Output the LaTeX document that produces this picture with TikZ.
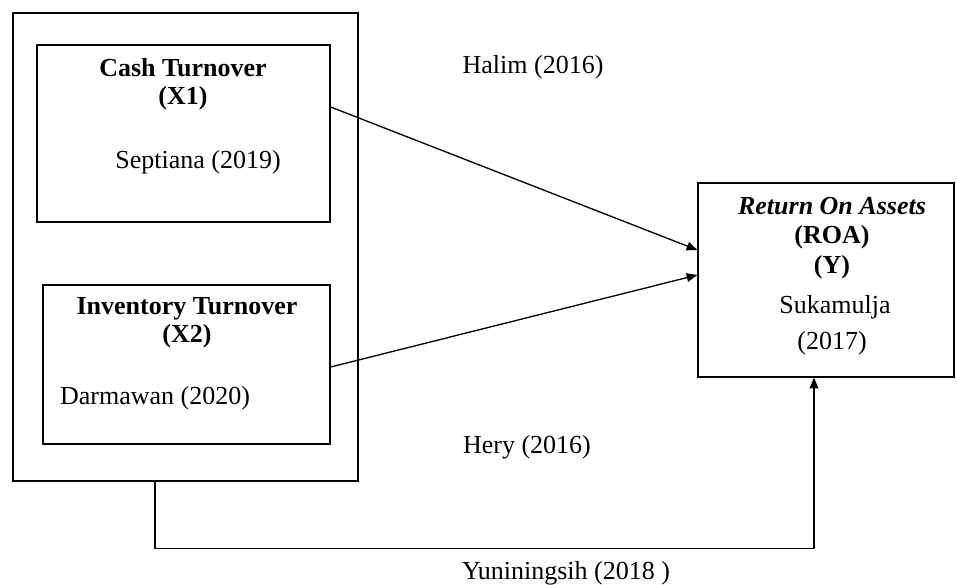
\documentclass[tikz,border=0pt]{standalone}
\usepackage{fontspec}
\setmainfont{Liberation Serif}
\usetikzlibrary{arrows.meta, calc}

\begin{document}
\begin{tikzpicture}[
        x=0.75pt, y=-0.75pt,
        box/.style={rectangle, draw, line width=1pt, inner sep=0pt},
        heading/.style={font=\fontsize{19.5}{21}\selectfont\bfseries, align=center},
        cite/.style={font=\fontsize{19.5}{21}\selectfont},
        arrow/.style={-{Triangle[length=8pt, width=6.5pt]}, line width=1pt}
    ]
        \useasboundingbox (0,0) rectangle (957,585);

        % Boxes
        \node[box, minimum width=258.75pt, minimum height=351pt] (outer) at (185.5,247) {};
        \node[box, minimum width=219.75pt, minimum height=132.75pt] (cash) at (183.5,133.5) {};
        \node[box, minimum width=215.25pt, minimum height=119.25pt] (inventory) at (186.5,364.5) {};
        \node[box, minimum width=192pt, minimum height=145.5pt] (roa) at (826,280) {};

        % Texts
        \node[heading] (cashtitle) at (183,84) {Cash Turnover\\(X1)};
        \node[cite] (septiana) at (198,162) {Septiana (2019)};
        \node[heading] (invtitle) at (187,323) {Inventory Turnover\\(X2)};
        \node[cite] (darmawan) at (155,398) {Darmawan (2020)};
        \node[heading, font=\fontsize{19.5}{22}\selectfont\bfseries] (roatitle) at (832,238) {\textit{Return On Assets}\\(ROA)\\(Y)};
        \node[cite] (sukamulja) at (835,307) {Sukamulja};
        \node[cite] (sukayear) at (832,343) {(2017)};
        \node[cite] (halim) at (533,67) {Halim (2016)};
        \node[cite] (hery) at (527,447) {Hery (2016)};
        \node[cite] (yuniningsih) at (566,573) {Yuniningsih (2018 )};

        % Paths
        \draw[arrow] ($(cash.east)+(0,-26.5)$) -- ($(roa.west)+(0,-30)$);
        \draw[arrow] ($(inventory.east)+(0,2.5)$) -- ($(roa.west)+(0,-5)$);
        \draw[arrow] ($(outer.south)+(-30.5,0)$) -- ++(0,67) -| ($(roa.south)+(-12,0)$);

    \end{tikzpicture}
\end{document}
